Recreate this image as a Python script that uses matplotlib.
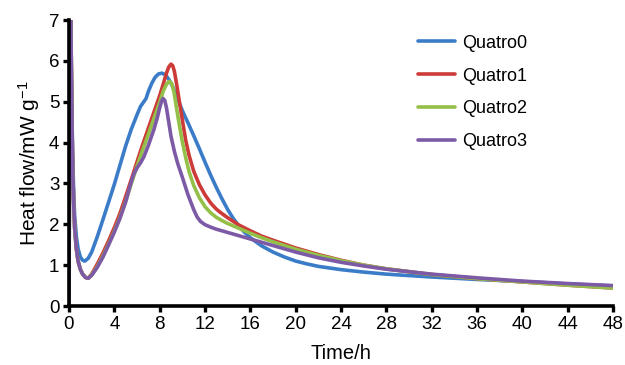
import matplotlib
matplotlib.use("Agg")
import matplotlib.pyplot as plt

plt.rcParams['font.family'] = ['Liberation Sans', 'DejaVu Sans']
plt.rcParams['mathtext.fontset'] = 'custom'
plt.rcParams['mathtext.rm'] = 'Liberation Sans'
plt.rcParams['mathtext.it'] = 'Liberation Sans:italic'

# time points (h) and heat flow values (mW/g)
t_q0 = [0, 0.1, 0.2, 0.3, 0.4, 0.5, 0.65, 0.8, 1.0, 1.2, 1.4, 1.7, 2.0, 2.5, 3, 3.5, 4,
        4.5, 5, 5.5, 6, 6.3, 6.6, 6.8, 7.0, 7.3, 7.6, 7.9, 8.2, 8.5, 8.8, 9.1, 9.5, 10,
        10.5, 11, 11.5, 12, 12.5, 13, 13.5, 14, 14.5, 15, 15.5, 16, 17, 18, 19, 20, 21,
        22, 24, 26, 28, 32, 36, 40, 44, 48]
q0 = [0, 9.0, 6.0, 4.0, 2.9, 2.2, 1.7, 1.4, 1.2, 1.12, 1.1, 1.17, 1.32, 1.7, 2.12, 2.55,
      2.98, 3.45, 3.92, 4.33, 4.68, 4.88, 5.0, 5.08, 5.25, 5.45, 5.6, 5.68, 5.7, 5.66,
      5.55, 5.4, 5.13, 4.78, 4.48, 4.17, 3.85, 3.52, 3.2, 2.9, 2.62, 2.36, 2.14, 1.95,
      1.8, 1.67, 1.47, 1.32, 1.2, 1.1, 1.03, 0.97, 0.89, 0.83, 0.78, 0.71, 0.65, 0.6,
      0.54, 0.49]

t_q1 = [0, 0.1, 0.2, 0.3, 0.4, 0.5, 0.65, 0.8, 1.0, 1.2, 1.45, 1.7, 2.0, 2.5, 3, 3.5, 4,
        4.5, 5, 5.5, 6, 6.5, 7, 7.5, 8, 8.3, 8.6, 8.8, 9.0, 9.15, 9.3, 9.5, 9.75, 10,
        10.3, 10.6, 11, 11.5, 12, 12.5, 13, 13.5, 14, 15, 16, 17, 18, 20, 22, 24, 26,
        28, 32, 36, 40, 44, 48]
q1 = [0, 9.0, 6.0, 3.8, 2.6, 1.9, 1.4, 1.1, 0.9, 0.78, 0.7, 0.68, 0.78, 1.03, 1.3, 1.6,
      1.92, 2.27, 2.68, 3.1, 3.53, 3.95, 4.35, 4.75, 5.15, 5.42, 5.7, 5.85, 5.92, 5.88,
      5.74, 5.42, 4.98, 4.55, 4.05, 3.68, 3.3, 2.97, 2.72, 2.52, 2.37, 2.26, 2.16, 1.98,
      1.84, 1.71, 1.61, 1.42, 1.26, 1.12, 1.0, 0.91, 0.77, 0.67, 0.59, 0.51, 0.44]

t_q2 = [0, 0.1, 0.2, 0.3, 0.4, 0.5, 0.65, 0.8, 1.0, 1.2, 1.45, 1.7, 2.0, 2.5, 3, 3.5, 4,
        4.5, 5, 5.5, 6, 6.5, 7, 7.5, 8, 8.3, 8.6, 8.85, 9.05, 9.25, 9.5, 9.75, 10, 10.3,
        10.6, 11, 11.5, 12, 12.5, 13, 13.5, 14, 15, 16, 17, 18, 20, 22, 24, 26, 28, 32,
        36, 40, 44, 48]
q2 = [0, 9.0, 6.0, 3.8, 2.6, 1.9, 1.4, 1.1, 0.9, 0.78, 0.7, 0.68, 0.76, 0.97, 1.23, 1.52,
      1.83, 2.17, 2.56, 3.0, 3.42, 3.82, 4.2, 4.6, 4.98, 5.25, 5.43, 5.5, 5.45, 5.25,
      4.82, 4.4, 4.02, 3.62, 3.28, 2.95, 2.65, 2.43, 2.28, 2.17, 2.09, 2.02, 1.9, 1.78,
      1.67, 1.57, 1.39, 1.24, 1.11, 1.0, 0.91, 0.77, 0.67, 0.59, 0.51, 0.44]

t_q3 = [0, 0.1, 0.2, 0.3, 0.4, 0.5, 0.65, 0.8, 1.0, 1.2, 1.45, 1.7, 2.0, 2.5, 3, 3.5, 4,
        4.5, 5, 5.4, 5.7, 6, 6.3, 6.6, 7, 7.5, 7.8, 8.0, 8.15, 8.3, 8.45, 8.6, 8.8, 9.0,
        9.3, 9.6, 10, 10.5, 11, 11.3, 11.6, 12, 12.5, 13, 14, 15, 16, 17, 18, 20, 22, 24,
        26, 28, 32, 36, 40, 44, 48]
q3 = [0, 9.0, 6.0, 3.8, 2.6, 1.9, 1.4, 1.1, 0.9, 0.78, 0.7, 0.68, 0.75, 0.95, 1.2, 1.5,
      1.81, 2.15, 2.55, 2.95, 3.22, 3.38, 3.5, 3.65, 3.93, 4.33, 4.62, 4.85, 5.0, 5.08,
      5.03, 4.85, 4.5, 4.15, 3.78, 3.48, 3.15, 2.72, 2.36, 2.18, 2.07, 1.99, 1.93, 1.88,
      1.8, 1.72, 1.64, 1.56, 1.48, 1.32, 1.18, 1.07, 0.98, 0.9, 0.78, 0.69, 0.61, 0.55,
      0.5]

series = [(t_q0, q0, 'Quatro0', '#3b7cc8'),
          (t_q1, q1, 'Quatro1', '#cc3b38'),
          (t_q2, q2, 'Quatro2', '#94c04a'),
          (t_q3, q3, 'Quatro3', '#7d5aa6')]

x_ticks = list(range(0, 49, 4))
y_ticks = list(range(0, 8))

fig = plt.figure(figsize=(6.25, 3.65), dpi=100)
ax = fig.add_axes([0.1104, 0.1616, 0.8706, 0.7836])

for t, v, name, col in series:
    ax.plot(t, v, color=col, lw=2.6, label=name,
            solid_joinstyle='round', solid_capstyle='round')

ax.set_xlim(0, 48)
ax.set_ylim(0, 7)
ax.set_xticks(x_ticks)
ax.set_yticks(y_ticks)
ax.tick_params(direction='out', length=4, width=2.4, labelsize=13.5, pad=3)

for side in ['top', 'right']:
    ax.spines[side].set_visible(False)
for side in ['left', 'bottom']:
    ax.spines[side].set_linewidth(2.6)

ax.set_xlabel('Time/h', fontsize=14.5, labelpad=8)
ax.set_ylabel('Heat flow/mW g$^{\\mathregular{-1}}$', fontsize=15, labelpad=5)

ax.legend(loc='upper left', bbox_to_anchor=(0.668, 0.905), bbox_transform=fig.transFigure,
          frameon=False, fontsize=13, handlelength=2.1, handletextpad=0.35,
          labelspacing=0.88, borderpad=0, borderaxespad=0)

fig.savefig('out.png', dpi=100)
